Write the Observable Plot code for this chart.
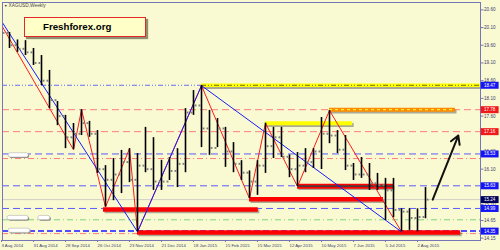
<!DOCTYPE html>
<html><head><meta charset="utf-8">
<script src="https://cdn.jsdelivr.net/npm/d3@7"></script>
<script src="https://cdn.jsdelivr.net/npm/@observablehq/plot@0.6"></script>
<style>
html,body{margin:0;padding:0;background:#fafad2;}
#wrap{position:relative;width:500px;height:250px;overflow:hidden;background:#fafad2;}
#logo{position:absolute;left:24px;top:17px;width:102px;height:18px;padding-left:18px;background:#ffffc8;border:1px solid #e02828;box-shadow:2px 2px 1px rgba(110,110,80,0.75);font:bold 9.7px "Liberation Sans",Arial,sans-serif;color:#000;line-height:18px;white-space:nowrap;}
</style></head>
<body><div id="wrap"><div id="chart"></div><div id="logo">Freshforex.org</div></div>
<script>
// ---- data ----
const symbolTitle = "XAGUSD,Weekly";
const firstWeek = "2014-08-03";
const high  = [20.25,19.96,19.75,19.73,19.51,19.31,18.89,18.01,17.62,17.39,17.78,17.45,17.19,16.20,16.40,16.63,16.68,16.54,17.28,16.99,16.35,16.43,16.68,17.81,18.32,18.46,17.76,17.53,17.28,16.85,16.34,16.05,16.34,17.40,17.28,17.28,16.50,16.57,16.68,16.68,17.56,17.76,17.19,17.05,16.26,16.43,16.26,15.98,15.84,15.84,14.98,14.98,14.98,15.58];
const low   = [19.85,19.51,19.40,19.31,19.03,18.46,17.81,17.33,16.68,16.65,17.05,17.00,15.98,15.03,15.21,15.41,15.72,14.33,16.00,15.50,15.50,15.78,15.58,16.00,17.62,16.71,16.49,16.71,16.15,16.00,15.78,15.27,15.36,15.98,16.40,16.43,15.86,15.61,16.00,16.12,16.09,16.82,16.54,16.06,15.78,15.84,15.50,15.50,14.65,14.73,14.33,14.37,14.33,14.70];
const open  = [20.10,19.95,19.60,19.50,19.40,19.10,18.60,18.05,17.60,17.00,17.10,17.40,17.10,16.10,15.80,15.95,16.30,15.80,16.20,16.10,15.75,15.75,16.05,16.25,17.70,17.90,17.25,16.70,17.25,16.60,16.25,16.00,15.75,16.20,16.75,17.00,16.45,16.10,16.20,16.30,16.60,17.10,17.05,16.65,16.20,15.95,15.95,15.70,15.65,15.50,14.95,14.90,14.72,14.75];
const close = [19.95,19.60,19.50,19.40,19.10,18.60,18.05,17.60,17.00,17.10,17.40,17.10,16.10,15.80,15.95,16.30,15.80,16.20,16.10,15.75,15.75,16.05,16.25,17.70,17.90,17.25,16.70,17.25,16.60,16.25,16.00,15.75,16.20,16.75,17.00,16.45,16.10,16.20,16.30,16.60,17.10,17.05,16.65,16.20,15.95,15.95,15.70,15.65,15.50,14.95,14.90,14.72,14.75,15.24];

const redZigWeek  = [0, 9, 10, 13, 16, 17, 25, 31, 33, 37, 41, 50];
const redZigPrice = [20.17, 16.65, 17.78, 15.03, 16.68, 14.33, 18.46, 15.27, 17.40, 15.61, 17.76, 14.33];
const blueZigWeek  = [0, 17, 25, 50];
const blueZigPrice = [20.28, 14.33, 18.46, 14.33];

const levelPrice = [18.47, 17.78, 17.16, 16.53, 16.40, 15.63, 15.24, 14.99, 14.67, 14.35, 14.28];
const levelKind  = ["blueDDot","redDash","redDash","blueDash","redDashDot","blueDash","bid","blueDash","greenDashDot","blueBold","redDashDot"];

const segStart = [25, 41, 33, 37, 31, 12.75, 17];
const segEnd   = [59.9, 56.75, 43.9, 49, 47.75, 32.1, 57.4];
const segPrice = [18.47, 17.78, 17.40, 15.62, 15.25, 14.96, 14.31];
const segKind  = ["yellowDD","orange","yellow","redDark","red","red","red"];

const boxPrice = [18.47, 17.78, 17.16, 16.53, 15.63, 15.24, 14.99, 14.35];
const boxKind  = ["blue","red","red","blue","blue","navy","blue","blue"];

const yTicks = [14.15,14.65,15.10,16.10,16.60,17.60,18.10,18.60,19.10,19.60,20.10,20.60];
const xTickWeeks = [0,4,8,12,16,20,24,28,32,36,40,44,48,52];

const arrowWeek  = [53.9, 57.1];
const arrowPrice = [15.24, 17.05];

const pillStart = [0.9, 0.75, 4.6, 0.9];
const pillEnd   = [3.4, 3.4, 6.1, 3.6];
const pillPrice = [16.49, 14.72, 14.72, 14.36];

// ---- build ----
const d0 = new Date(firstWeek + "T00:00:00Z");
const wk = k => new Date(d0.getTime() + k * 7 * 864e5);
const bars = high.map((h, i) => ({date: wk(i), high: h, low: low[i], open: open[i], close: close[i]}));
const redZig = redZigWeek.map((k, i) => ({date: wk(k), price: redZigPrice[i]}));
const blueZig = blueZigWeek.map((k, i) => ({date: wk(k), price: blueZigPrice[i]}));
const levels = levelPrice.map((p, i) => ({price: p, kind: levelKind[i]}));
const segs = segPrice.map((p, i) => ({price: p, kind: segKind[i], s: wk(segStart[i]), e: wk(segEnd[i])}));
const boxes = boxPrice.map((p, i) => ({price: p, kind: boxKind[i]}));
const pills = pillPrice.map((p, i) => ({price: p, s: wk(pillStart[i]), e: wk(pillEnd[i])}));
const arrows = [{x1: wk(arrowWeek[0]), y1: arrowPrice[0], x2: wk(arrowWeek[1]), y2: arrowPrice[1]}];

const levelStyle = {
  blueDDot: {stroke: "#5a5aff", dash: "5,2,1,2,1,2", w: 0.9},
  redDash: {stroke: "#ff7c7c", dash: "7,4", w: 1},
  blueDash: {stroke: "#5a5aff", dash: "7,4", w: 1},
  redDashDot: {stroke: "#ff7c7c", dash: "6,3,1,3", w: 1},
  bid: {stroke: "#cfcfc8", dash: null, w: 1},
  greenDashDot: {stroke: "#7fd27f", dash: "6,3,1,3", w: 1},
  blueBold: {stroke: "#4f4fff", dash: "6,3", w: 2}
};
const boxColor = {blue: "#1515f5", red: "#f01818", navy: "#000058"};
const axisStroke = "#7676b6", axisText = "#3a3a6e";

const marks = [];
for (const [kind, st] of Object.entries(levelStyle)) {
  marks.push(Plot.ruleY(levels.filter(d => d.kind === kind), {y: "price", stroke: st.stroke, strokeWidth: st.w, strokeDasharray: st.dash}));
}
marks.push(Plot.ruleY(segs, {y: "price", x1: "s", x2: "e", stroke: "#77776a", strokeOpacity: 0.6, strokeWidth: 4, dx: 1.5, dy: 1.8}));
const segColor = {yellowDD: "#ffff00", orange: "#ff8c00", yellow: "#ffff00", redDark: "#ff0000", red: "#ff0000"};
const segWidth = {yellowDD: 3.5, orange: 4, yellow: 4, redDark: 5, red: 4.5};
for (const kind of Object.keys(segColor)) {
  marks.push(Plot.ruleY(segs.filter(d => d.kind === kind), {y: "price", x1: "s", x2: "e", stroke: segColor[kind], strokeWidth: segWidth[kind]}));
}
marks.push(Plot.ruleY(segs.filter(d => d.kind === "yellowDD"), {y: "price", x1: "s", x2: "e", stroke: "#707000", strokeWidth: 1, strokeDasharray: "5,2,1,2,1,2"}));
marks.push(Plot.ruleY(segs.filter(d => d.kind === "orange"), {y: "price", x1: "s", x2: "e", stroke: "#ffff30", strokeWidth: 1, strokeDasharray: "3,3"}));
marks.push(Plot.ruleY(segs.filter(d => d.kind === "redDark"), {y: "price", x1: "s", x2: "e", stroke: "#4a3a3a", strokeWidth: 1.8}));
marks.push(Plot.line(redZig, {x: "date", y: "price", stroke: "#ff1a1a", strokeWidth: 1, clip: true}));
marks.push(Plot.line(blueZig, {x: "date", y: "price", stroke: "#1a1aff", strokeWidth: 1, clip: true}));
marks.push(Plot.ruleX(bars, {x: "date", y1: "low", y2: "high", stroke: "#000", strokeWidth: 1.6, clip: true}));
marks.push(Plot.dot(bars, {x: "date", y: "open", symbol: "square", r: 1.1, fill: "#7f7f7f", dx: -2, clip: true}));
marks.push(Plot.dot(bars, {x: "date", y: "close", symbol: "square", r: 1.1, fill: "#7f7f7f", dx: 2, clip: true}));
marks.push(Plot.arrow(arrows, {x1: "x1", y1: "y1", x2: "x2", y2: "y2", stroke: "#111", strokeWidth: 2, headLength: 7}));
marks.push(Plot.rect(pills, {x1: "s", x2: "e", y1: d => d.price - 0.06, y2: d => d.price + 0.06, fill: "#8a8a80", dx: 1, dy: 1, rx: 2}));
marks.push(Plot.rect(pills, {x1: "s", x2: "e", y1: d => d.price - 0.06, y2: d => d.price + 0.06, fill: "#ffffff", stroke: "#b0b0b0", strokeWidth: 0.6, rx: 2}));
marks.push(Plot.axisY({anchor: "right", ticks: yTicks, tickFormat: d => d.toFixed(2), tickSize: 2.5, tickPadding: 1, fontSize: 4.6, stroke: axisStroke, fill: axisText, label: null}));
marks.push(Plot.axisX({ticks: xTickWeeks.map(wk), tickFormat: d3.utcFormat("%-d %b %Y"), tickSize: 2, tickPadding: 1, fontSize: 4.3, textAnchor: "start", stroke: axisStroke, fill: axisText, label: null}));
marks.push(Plot.frame({stroke: axisStroke, strokeWidth: 1}));
for (const kind of Object.keys(boxColor)) {
  const sub = boxes.filter(d => d.kind === kind);
  marks.push(Plot.ruleY(sub, {y: "price", x1: () => wk(59.97), x2: () => wk(62.2), stroke: boxColor[kind], strokeWidth: 7}));
}
marks.push(Plot.text(boxes, {x: () => wk(60.3), y: "price", text: d => d.price.toFixed(2), textAnchor: "start", fill: "#ffffff", fontSize: 4.6}));
marks.push(Plot.text([symbolTitle], {frameAnchor: "top-left", text: d => d, textAnchor: "start", lineAnchor: "top", dx: 6, dy: 1.5, fontSize: 4.8, fill: "#4a4a4a"}));
marks.push(Plot.text(["▼"], {frameAnchor: "top-left", text: d => d, textAnchor: "start", lineAnchor: "top", dx: 1.5, dy: 2, fontSize: 3.5, fill: "#333"}));

const chart = Plot.plot({
  width: 500, height: 250,
  marginLeft: 2, marginRight: 20, marginTop: 2, marginBottom: 10,
  style: {background: "#fafad2", fontFamily: "Liberation Sans, Arial, sans-serif", overflow: "visible"},
  x: {type: "utc", domain: [wk(0.125), wk(59.875)]},
  y: {domain: [14.085, 20.808]},
  marks
});
document.getElementById("chart").appendChild(chart);
</script>
</body></html>
